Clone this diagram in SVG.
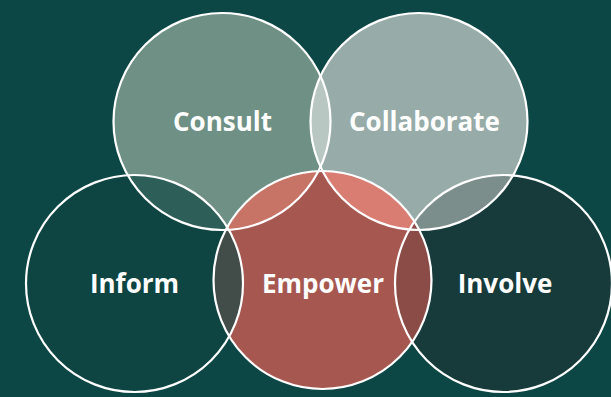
<svg xmlns="http://www.w3.org/2000/svg" width="611" height="397" viewBox="0 0 611 397">
  <style>
    .ring { fill: none; stroke: #ffffff; stroke-width: 2.2; }
    .label { font-family: "Open Sans", Lato, "Liberation Sans", sans-serif; font-weight: 700; font-size: 26px; fill: #ffffff; text-anchor: middle; }
  </style>
  <defs>
    <clipPath id="clip-consult"><circle cx="222" cy="121.5" r="108.5"/></clipPath>
    <clipPath id="clip-collaborate"><circle cx="419" cy="121.5" r="108.5"/></clipPath>
    <clipPath id="clip-inform"><circle cx="134.5" cy="283.5" r="108.5"/></clipPath>
    <clipPath id="clip-empower"><circle cx="322.5" cy="280" r="109"/></clipPath>
    <clipPath id="clip-involve"><circle cx="503.5" cy="283.5" r="108.5"/></clipPath>
  </defs>

  <rect width="611" height="397" fill="#0d4745"/>

  <!-- base fills -->
  <g id="fills">
    <circle cx="222" cy="121.5" r="108.5" fill="#6f9084"/>
    <circle cx="419" cy="121.5" r="108.5" fill="#97aca9"/>
    <circle cx="134.5" cy="283.5" r="108.5" fill="#0e4543"/>
    <circle cx="503.5" cy="283.5" r="108.5" fill="#163b3a"/>
    <circle cx="322.5" cy="280" r="109" fill="#a65850"/>
  </g>

  <!-- overlap regions -->
  <g id="overlaps">
    <circle cx="419" cy="121.5" r="108.5" fill="#b9c7c3" clip-path="url(#clip-consult)"/>
    <circle cx="134.5" cy="283.5" r="108.5" fill="#2e5e58" clip-path="url(#clip-consult)"/>
    <circle cx="503.5" cy="283.5" r="108.5" fill="#7c8e8b" clip-path="url(#clip-collaborate)"/>
    <circle cx="322.5" cy="280" r="109" fill="#c77366" clip-path="url(#clip-consult)"/>
    <circle cx="322.5" cy="280" r="109" fill="#d97d73" clip-path="url(#clip-collaborate)"/>
    <circle cx="322.5" cy="280" r="109" fill="#424c49" clip-path="url(#clip-inform)"/>
    <circle cx="322.5" cy="280" r="109" fill="#8b4c47" clip-path="url(#clip-involve)"/>
  </g>

  <g id="consult">
    <circle class="ring" cx="222" cy="121.5" r="108.5"/>
    <text class="label" x="222.5" y="131">Consult</text>
  </g>
  <g id="collaborate">
    <circle class="ring" cx="419" cy="121.5" r="108.5"/>
    <text class="label" x="424.5" y="131">Collaborate</text>
  </g>
  <g id="inform">
    <circle class="ring" cx="134.5" cy="283.5" r="108.5"/>
    <text class="label" x="134.5" y="293">Inform</text>
  </g>
  <g id="involve">
    <circle class="ring" cx="503.5" cy="283.5" r="108.5"/>
    <text class="label" x="505" y="293">Involve</text>
  </g>
  <g id="empower">
    <circle class="ring" cx="322.5" cy="280" r="109"/>
    <text class="label" x="323" y="293">Empower</text>
  </g>
</svg>
